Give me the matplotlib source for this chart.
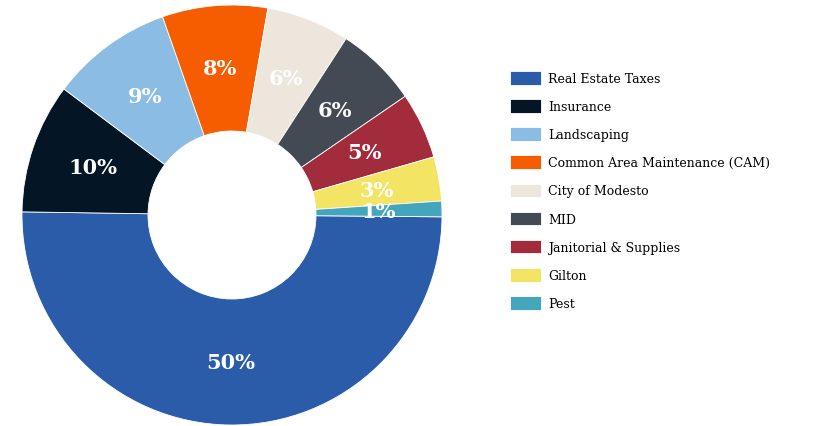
import matplotlib.pyplot as plt

# shares of operating expenses (percent)
categories = ['Real Estate Taxes', 'Insurance', 'Landscaping',
              'Common Area Maintenance (CAM)', 'City of Modesto', 'MID',
              'Janitorial & Supplies', 'Gilton', 'Pest']
shares = [50.1, 10.0, 9.4, 8.1, 6.4, 6.3, 5.1, 3.4, 1.2]
colors = ['#2a5caa', '#041626', '#8bbce4', '#f55d00', '#ece6dd',
          '#434a54', '#a32c3c', '#f4e463', '#44a6bc']

W, H = 816, 427
fig = plt.figure(figsize=(W/100, H/100), dpi=100)
# donut centre ~ (232, 216) px, outer radius ~210 px
cx, cy, R = 232, 216, 210
ax = fig.add_axes([(cx-R)/W, (H-cy-R)/H, 2*R/W, 2*R/H])

wedges, texts, autotexts = ax.pie(
    shares, colors=colors, startangle=-0.5, counterclock=False,
    radius=1.0, autopct='%.0f%%', pctdistance=0.70,
    wedgeprops=dict(width=0.60, edgecolor='white', linewidth=0.6),
    textprops=dict(color='white', fontsize=15, fontweight='bold',
                   family='DejaVu Serif'))
ax.set_xlim(-1, 1)
ax.set_ylim(-1, 1)
ax.set_aspect('equal')
ax.axis('off')

leg = fig.legend(wedges, categories, loc='upper left',
                 bbox_to_anchor=(510/W, 1 - 72/H), frameon=False,
                 prop=dict(family='DejaVu Serif', size=9),
                 handlelength=2.5, handleheight=1.3, handletextpad=0.55,
                 labelspacing=1.13, borderaxespad=0, borderpad=0)

fig.savefig('out.png', dpi=100)
